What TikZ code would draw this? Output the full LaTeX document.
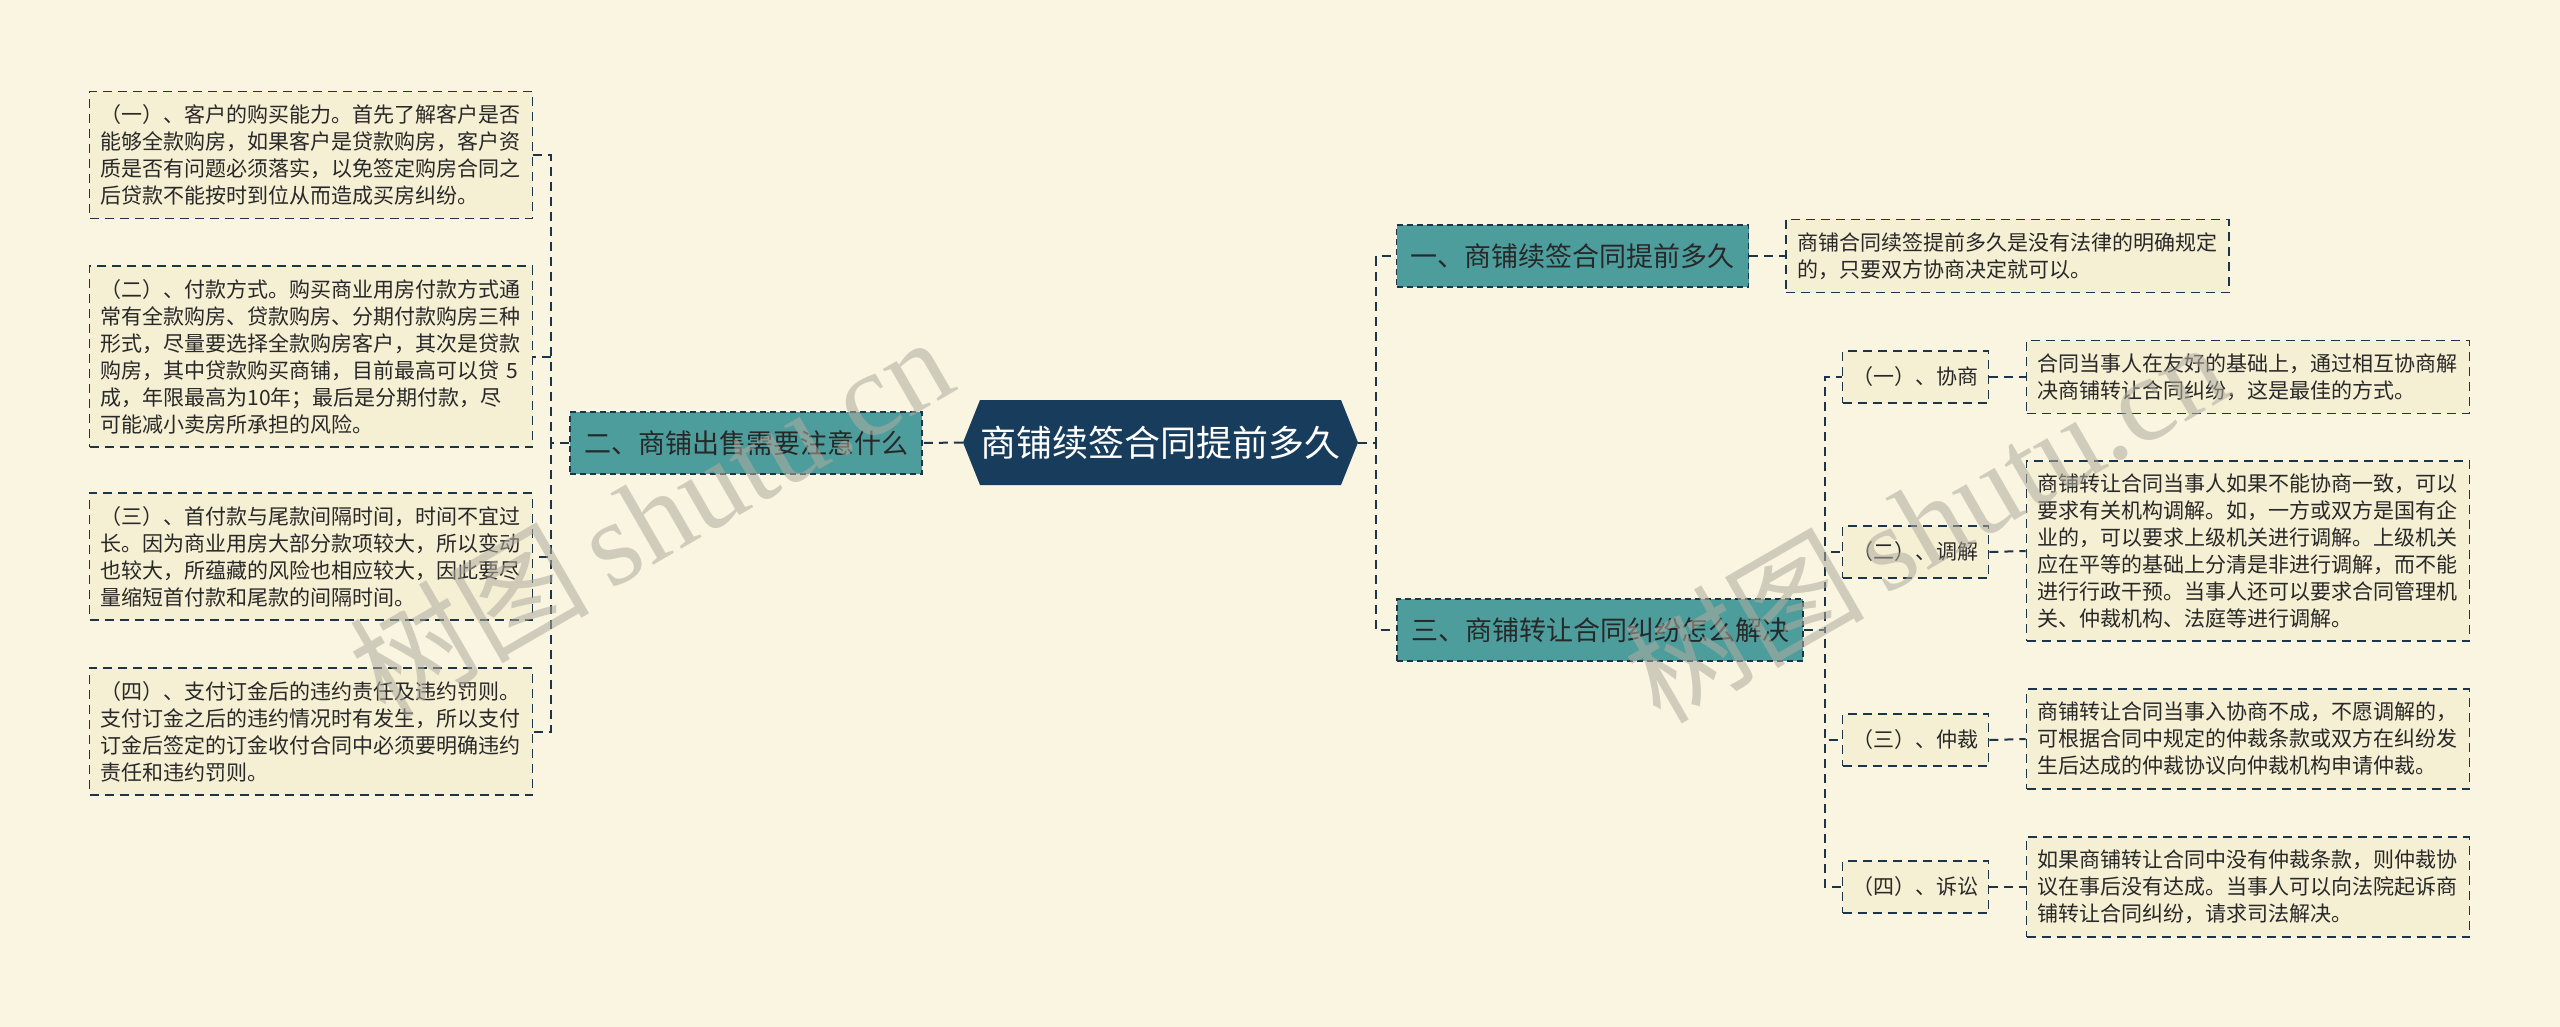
\documentclass[tikz,border=0pt]{standalone}
\usepackage{fontspec}
\setmainfont{Noto Sans CJK SC}
\newfontfamily\wmserif{Liberation Serif}
\definecolor{bgc}{RGB}{250,245,224}
\definecolor{leaff}{RGB}{245,239,211}
\definecolor{tealc}{RGB}{78,157,157}
\definecolor{navyc}{RGB}{24,60,92}
\definecolor{linec}{RGB}{30,52,72}
\definecolor{txtc}{RGB}{40,40,40}
\definecolor{wmc}{RGB}{175,172,160}
\tikzset{
  conn/.style={draw=linec, line width=2pt, dash pattern=on 9pt off 6pt},
  leafbox/.style={draw=linec, fill=leaff, line width=1.6pt, dash pattern=on 9pt off 6pt,
    text width=421pt, align=left, inner xsep=11pt, inner ysep=13pt,
    font=\fontsize{21pt}{27pt}\selectfont, text=txtc},
  branchbox/.style={draw=linec, fill=tealc, line width=1.6pt, dash pattern=on 6pt off 4pt,
    minimum height=62pt, inner xsep=14pt, font=\fontsize{27pt}{32pt}\selectfont, text=txtc},
  subbox/.style={draw=linec, fill=leaff, line width=1.6pt, dash pattern=on 9pt off 6pt,
    minimum height=52pt, inner xsep=10pt, font=\fontsize{21pt}{26pt}\selectfont, text=txtc},
  wm/.style={text=wmc, opacity=0.55, rotate=30, font=\fontsize{120pt}{125pt}\selectfont}
}
\begin{document}
\begin{tikzpicture}[x=1pt,y=-1pt]
\useasboundingbox (0,0) rectangle (2560,1027);
\fill[bgc] (0,0) rectangle (2560,1027);

% root hexagon
\fill[navyc] (963,442.5) -- (980,400) -- (1341,400) -- (1358,442.5) -- (1341,485) -- (980,485) -- cycle;
\node[minimum width=395pt, minimum height=85pt, inner sep=0pt, text=white,
  font=\fontsize{36pt}{40pt}\selectfont] (root) at (1160.5,442.5) {商铺续签合同提前多久};

% branches
\node[branchbox] (b2) at (746,443) {二、商铺出售需要注意什么};
\node[branchbox] (b1) at (1572.5,256) {一、商铺续签合同提前多久};
\node[branchbox] (b3) at (1600,630) {三、商铺转让合同纠纷怎么解决};

% left leaves
\node[leafbox] (l1) at (311,155) {（一）、客户的购买能力。首先了解客户是否\\能够全款购房，如果客户是贷款购房，客户资\\质是否有问题必须落实，以免签定购房合同之\\后贷款不能按时到位从而造成买房纠纷。};
\node[leafbox] (l2) at (311,356.5) {（二）、付款方式。购买商业用房付款方式通\\常有全款购房、贷款购房、分期付款购房三种\\形式，尽量要选择全款购房客户，其次是贷款\\购房，其中贷款购买商铺，目前最高可以贷 5\\成，年限最高为10年；最后是分期付款，尽\\可能减小卖房所承担的风险。};
\node[leafbox] (l3) at (311,556.5) {（三）、首付款与尾款间隔时间，时间不宜过\\长。因为商业用房大部分款项较大，所以变动\\也较大，所蕴藏的风险也相应较大，因此要尽\\量缩短首付款和尾款的间隔时间。};
\node[leafbox] (l4) at (311,731.5) {（四）、支付订金后的违约责任及违约罚则。\\支付订金之后的违约情况时有发生，所以支付\\订金后签定的订金收付合同中必须要明确违约\\责任和违约罚则。};

% right leaf of b1
\node[leafbox] (r0) at (2007.5,256) {商铺合同续签提前多久是没有法律的明确规定\\的，只要双方协商决定就可以。};

% sub nodes of b3
\node[subbox] (s1) at (1915.5,377) {（一）、协商};
\node[subbox] (s2) at (1915.5,552) {（二）、调解};
\node[subbox] (s3) at (1915.5,740) {（三）、仲裁};
\node[subbox] (s4) at (1915.5,887) {（四）、诉讼};

\node[leafbox] (r1) at (2248,377) {合同当事人在友好的基础上，通过相互协商解\\决商铺转让合同纠纷，这是最佳的方式。};
\node[leafbox] (r2) at (2248,551) {商铺转让合同当事人如果不能协商一致，可以\\要求有关机构调解。如，一方或双方是国有企\\业的，可以要求上级机关进行调解。上级机关\\应在平等的基础上分清是非进行调解，而不能\\进行行政干预。当事人还可以要求合同管理机\\关、仲裁机构、法庭等进行调解。};
\node[leafbox] (r3) at (2248,739) {商铺转让合同当事入协商不成，不愿调解的，\\可根据合同中规定的仲裁条款或双方在纠纷发\\生后达成的仲裁协议向仲裁机构申请仲裁。};
\node[leafbox] (r4) at (2248,887) {如果商铺转让合同中没有仲裁条款，则仲裁协\\议在事后没有达成。当事人可以向法院起诉商\\铺转让合同纠纷，请求司法解决。};

% connectors
\draw[conn] (root.west) -- (b2.east);
\foreach \n in {l1,l2,l3,l4} \draw[conn] (b2.west) -- ++(-18,0) |- (\n.east);
\draw[conn] (root.east) -- ++(18,0) |- (b1.west);
\draw[conn] (root.east) -- ++(18,0) |- (b3.west);
\draw[conn] (b1.east) -- (r0.west);
\foreach \n in {s1,s2,s3,s4} \draw[conn] (b3.east) -- ++(21,0) |- (\n.west);
\draw[conn] (s1.east) -- (r1.west);
\draw[conn] (s2.east) -- (r2.west);
\draw[conn] (s3.east) -- (r3.west);
\draw[conn] (s4.east) -- (r4.west);

% watermarks
\node[wm] (wm1) at (650,515) {树图\,{\wmserif shutu.cn}};
\node[wm] (wm2) at (1925,520) {树图\,{\wmserif shutu.cn}};
\end{tikzpicture}
\end{document}
